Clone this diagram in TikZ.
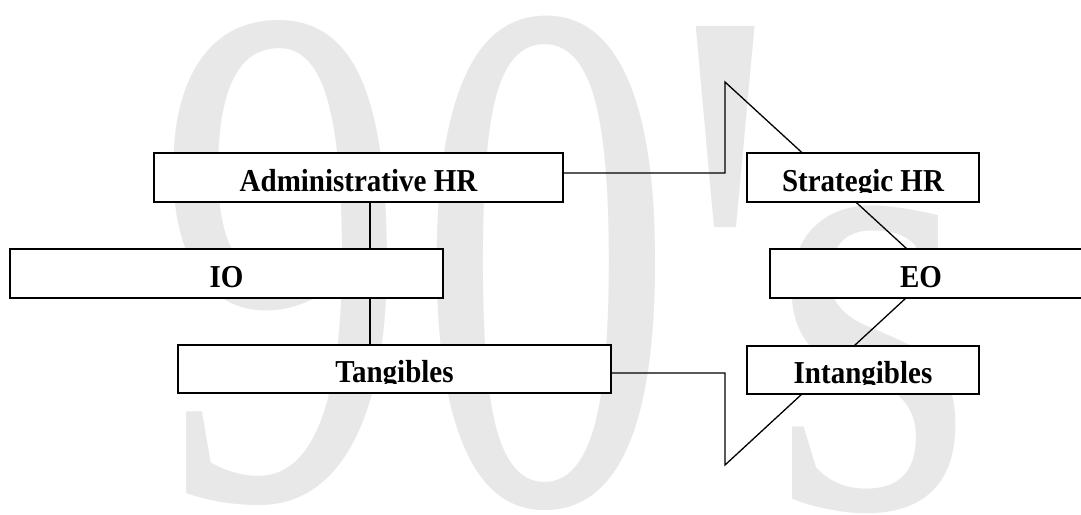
\documentclass[tikz,border=0pt]{standalone}
\usepackage{fontspec}
\setmainfont{Liberation Serif}
\newfontfamily\wmfont[Ligatures=TeXOff]{Liberation Serif}
\usetikzlibrary{calc}
\pgfdeclarelayer{wm}
\pgfdeclarelayer{bg}
\pgfsetlayers{wm,bg,main}
\definecolor{wmgray}{RGB}{232,232,232}
\newcommand\hrlabel[3]{%
  \begin{scope}
    \clip (#1.north west) rectangle ($(#1.south east)+(0,9.5)$);
    \node[hrtext] (#2) at ($(#1.south)+(0,10.5)$) {#3};
  \end{scope}}
\begin{document}
\begin{tikzpicture}[x=1pt,y=1pt,
  hrbox/.style={draw, line width=1.6pt, fill=white, rectangle, inner sep=0pt, outer sep=0pt},
  hrtext/.style={anchor=base, inner sep=0pt, outer sep=0pt, font=\fontsize{29}{31}\selectfont\bfseries, yscale=1.1, transform shape},
  wmglyph/.style={anchor=base west, inner sep=0pt, outer sep=0pt, text=wmgray, font=\wmfont\fontsize{100}{100}\selectfont, transform shape},
  link/.style={draw, line width=1.3pt, line join=miter}]
\useasboundingbox (0,0) rectangle (1081,-514);

\begin{pgfonlayer}{wm}
  \node[wmglyph, xscale=5.01, yscale=7.22] (g9) at (157,-498) {9};
  \node[wmglyph, xscale=5.155, yscale=7.33] (g0) at (417.6,-503.7) {0};
  \node[wmglyph, xscale=6.12, yscale=8.57] (gq) at (670.6,-587) {'};
  \node[wmglyph, xscale=5.25, yscale=6.4] (gs) at (770.2,-507.6) {s};
\end{pgfonlayer}

\node[hrbox, minimum width=409pt, minimum height=49pt] (adm) at (358.5,-177.5) {};
\node[hrbox, minimum width=232pt, minimum height=49pt] (str) at (863,-177.5) {};
\node[hrbox, minimum width=433pt, minimum height=49pt] (io)  at (226.5,-273.5) {};
\node[hrbox, minimum width=340pt, minimum height=49pt] (eo)  at (940,-273.5) {};
\node[hrbox, minimum width=433pt, minimum height=48pt] (tan) at (394.5,-369) {};
\node[hrbox, minimum width=232pt, minimum height=48pt] (int) at (863,-370) {};

\hrlabel{adm}{admtxt}{Administrative HR}
\hrlabel{str}{strtxt}{Strategic HR}
\hrlabel{io}{iotxt}{IO}
\begin{scope}
  \clip (eo.north west) rectangle ($(eo.south east)+(0,9.5)$);
  \node[hrtext] (eotxt) at ($(eo.south west)+(151,10.5)$) {EO};
\end{scope}
\hrlabel{tan}{tantxt}{Tangibles}
\hrlabel{int}{inttxt}{Intangibles}

\begin{pgfonlayer}{bg}
  \coordinate (apexA) at (725,-82);
  \coordinate (apexB) at (725,-465);
  \coordinate (vx) at (370,0);
  \draw[link] ($(adm.east)+(0,4.5)$) -| (apexA) -- ($(eo.north west)+(137,0)$);
  \draw[link] (adm.south -| vx) -- (io.north -| vx);
  \draw[link] (io.south -| vx) -- (tan.north -| vx);
  \draw[link] ($(tan.east)+(0,-4)$) -| (apexB) -- ($(eo.south west)+(136,0)$);
\end{pgfonlayer}
\end{tikzpicture}
\end{document}
